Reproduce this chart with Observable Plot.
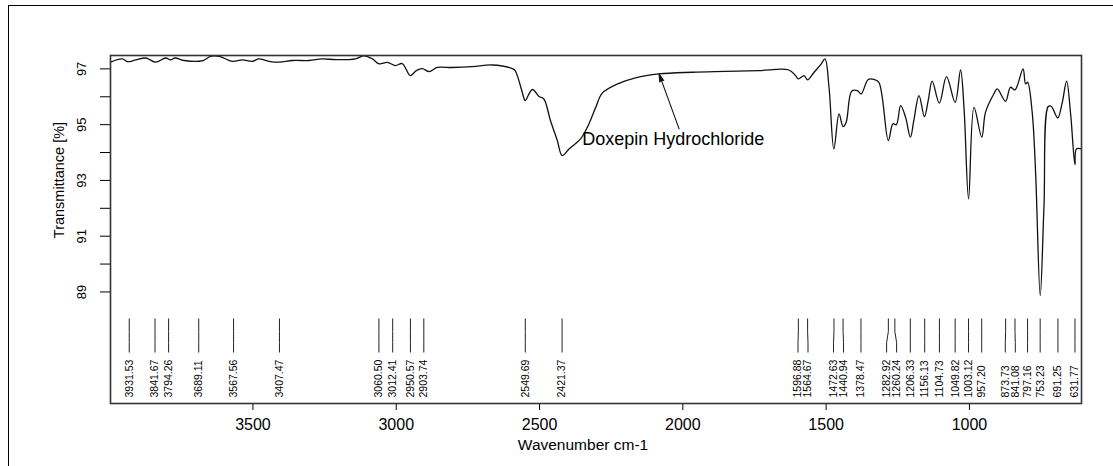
<!DOCTYPE html>
<html><head><meta charset="utf-8">
<script src="https://cdn.jsdelivr.net/npm/d3@7"></script>
<script src="https://cdn.jsdelivr.net/npm/@observablehq/plot@0.6"></script>
<style>
body{margin:0;overflow:hidden;background:#fff;font-family:"Liberation Sans",Arial,sans-serif}
#wrap{position:relative;width:1113px;height:466px;overflow:hidden}
#border{position:absolute;left:8px;top:5px;width:1300px;height:700px;border-left:1.5px solid #000;border-top:1.5px solid #000}
#chart{position:absolute;left:0;top:0}
</style></head><body><div id="wrap"><div id="border"></div><div id="chart"></div></div>
<script>
const wavenumber = [3997,3956,3938,3909,3874,3839,3805,3787,3772,3740,3674,3648,3618,3572,3537,3502,3479,3444,3409,3362,3304,3258,3211,3142,3112,3083,3060,3031,3003,2979,2951,2930,2909,2885,2857,2805,2735,2665,2595,2585,2554,2550,2525,2502,2485,2462,2438,2421,2397,2357,2333,2304,2281,2223,2165,2083,1967,1851,1734,1630,1607,1597,1577,1565,1542,1519,1504,1490,1473,1455,1441,1430,1411,1391,1378,1353,1333,1316,1283,1267,1255,1240,1223,1206,1194,1176,1157,1144,1130,1105,1080,1050,1031,1019,1003,984,957,944,915,903,874,857,841,813,804,797,781,769,753,740,725,714,692,676,661,647,632,627,609];
const transmittance = [97.24,97.36,97.26,97.32,97.39,97.24,97.39,97.32,97.39,97.30,97.30,97.45,97.45,97.27,97.32,97.27,97.36,97.27,97.24,97.30,97.30,97.36,97.33,97.36,97.47,97.36,97.18,97.23,97.12,97.19,96.76,96.94,97.01,96.90,97.05,97.05,97.08,97.14,97.01,96.94,95.94,95.86,96.26,96.01,95.92,95.15,94.43,93.89,94.13,94.49,94.91,95.62,96.13,96.48,96.68,96.82,96.88,96.91,96.94,96.96,96.76,96.64,96.76,96.61,96.88,97.15,97.36,96.34,94.13,95.39,94.93,95.09,96.20,96.22,96.10,96.62,96.62,96.52,94.43,95.03,95.00,95.68,95.27,94.55,95.15,96.04,95.29,95.86,96.56,95.77,96.72,95.80,96.96,95.62,92.34,95.62,94.55,95.44,96.10,96.28,95.84,96.34,96.25,97.00,96.46,96.52,95.44,93.24,88.87,92.04,95.65,95.65,95.24,95.80,96.56,95.39,93.57,94.13,94.13];
const peakPositions = [3931.53,3841.67,3794.26,3689.11,3567.56,3407.47,3060.50,3012.41,2950.57,2903.74,2549.69,2421.37,1596.88,1564.67,1472.63,1440.94,1378.47,1282.92,1260.24,1206.33,1156.13,1104.73,1049.82,1003.12,957.20,873.73,841.08,797.16,753.23,691.25,631.77];
const peakLabels = peakPositions.map(v => v.toFixed(2));
const xTicks = [3500,3000,2500,2000,1500,1000];
const yTicks = [89,90,91,92,93,94,95,96,97];
const yTickLabels = [89,91,93,95,97];
const compoundName = ["Doxepin Hydrochloride"];
const nameAt = [2351, 94.47];
const arrowFrom = [2013, 94.85];
const arrowTo = [2083, 96.82];

const W = 1113, H = 466, mL = 110, mR = 32, mT = 55, mB = 63;
const xDomain = [3997, 609], yDomain = [85, 97.48];
const xs = Plot.scale({x: {domain: xDomain, range: [mL, W - mR]}});
const ys = Plot.scale({y: {domain: yDomain, range: [H - mB, mT]}});

// spread peak labels so they do not overlap
const gap = 10;
const items = peakPositions.map((w, i) => ({w, label: peakLabels[i], px: xs.apply(w)})).sort((a, b) => a.px - b.px);
let clusters = items.map(d => ({members: [d], center: d.px}));
const cStart = c => c.center - (c.members.length - 1) * gap / 2;
let merged = true;
while (merged) {
  merged = false;
  for (let i = 0; i < clusters.length - 1; i++) {
    const a = clusters[i], b = clusters[i + 1];
    const aEnd = cStart(a) + (a.members.length - 1) * gap;
    if (cStart(b) - aEnd < gap) {
      const m = [...a.members, ...b.members];
      clusters.splice(i, 2, {members: m, center: d3.mean(m, d => d.px)});
      merged = true; break;
    }
  }
}
clusters.forEach(c => { const s = cStart(c); c.members.forEach((d, j) => { d.lw = xs.invert(s + j * gap); }); });

const yTop = ys.invert(318), yK1 = ys.invert(331), yK2 = ys.invert(342), yBot = ys.invert(352), yText = ys.invert(397);
const spectrum = wavenumber.map((w, i) => ({w, t: transmittance[i]}));

const chart = Plot.plot({
  width: W, height: H,
  marginLeft: mL, marginRight: mR, marginTop: mT, marginBottom: mB,
  style: {fontFamily: "Liberation Sans, Arial, sans-serif", fontSize: "13px", color: "#000", background: "transparent"},
  x: {domain: xDomain},
  y: {domain: yDomain},
  marks: [
    Plot.axisX({ticks: xTicks, tickSize: 7, tickPadding: 8, tickFormat: d => String(d), label: null, fontSize: 16}),
    Plot.axisY({ticks: yTicks, tickSize: 10, tickFormat: () => "", label: null}),
    Plot.text(yTickLabels, {y: d => d, text: d => String(d), frameAnchor: "left", textAnchor: "middle", dx: -29, rotate: -90, fontSize: 13}),
    Plot.text(["Transmittance [%]"], {text: d => d, frameAnchor: "top-left", textAnchor: "middle", dx: -57, dy: 124.5, rotate: -90, fontSize: 14.5}),
    Plot.text(["Wavenumber cm-1"], {text: d => d, frameAnchor: "bottom", dx: -13, dy: 46, fontSize: 15.5}),
    Plot.line(spectrum, {x: "w", y: "t", stroke: "#111", strokeWidth: 1.3, curve: "catmull-rom"}),
    Plot.link(items, {x1: "w", x2: "w", y1: yTop, y2: yK1, stroke: "#222"}),
    Plot.link(items, {x1: "w", x2: "lw", y1: yK1, y2: yK2, stroke: "#222"}),
    Plot.link(items, {x1: "lw", x2: "lw", y1: yK2, y2: yBot, stroke: "#222"}),
    Plot.text(items, {x: "lw", y: yText, text: "label", rotate: -90, textAnchor: "start", fontSize: 10.5}),
    Plot.text(compoundName, {x: nameAt[0], y: nameAt[1], text: d => d, textAnchor: "start", fontSize: 18}),
    Plot.arrow([0], {x1: arrowFrom[0], y1: arrowFrom[1], x2: arrowTo[0], y2: arrowTo[1], headLength: 11, headAngle: 30, stroke: "#111", strokeWidth: 1.1}),
    Plot.frame({stroke: "#333", strokeWidth: 1.6})
  ]
});
d3.select(chart).selectAll("g[aria-label=arrow] path").attr("fill", "#111");
document.getElementById("chart").append(chart);
</script></body></html>
